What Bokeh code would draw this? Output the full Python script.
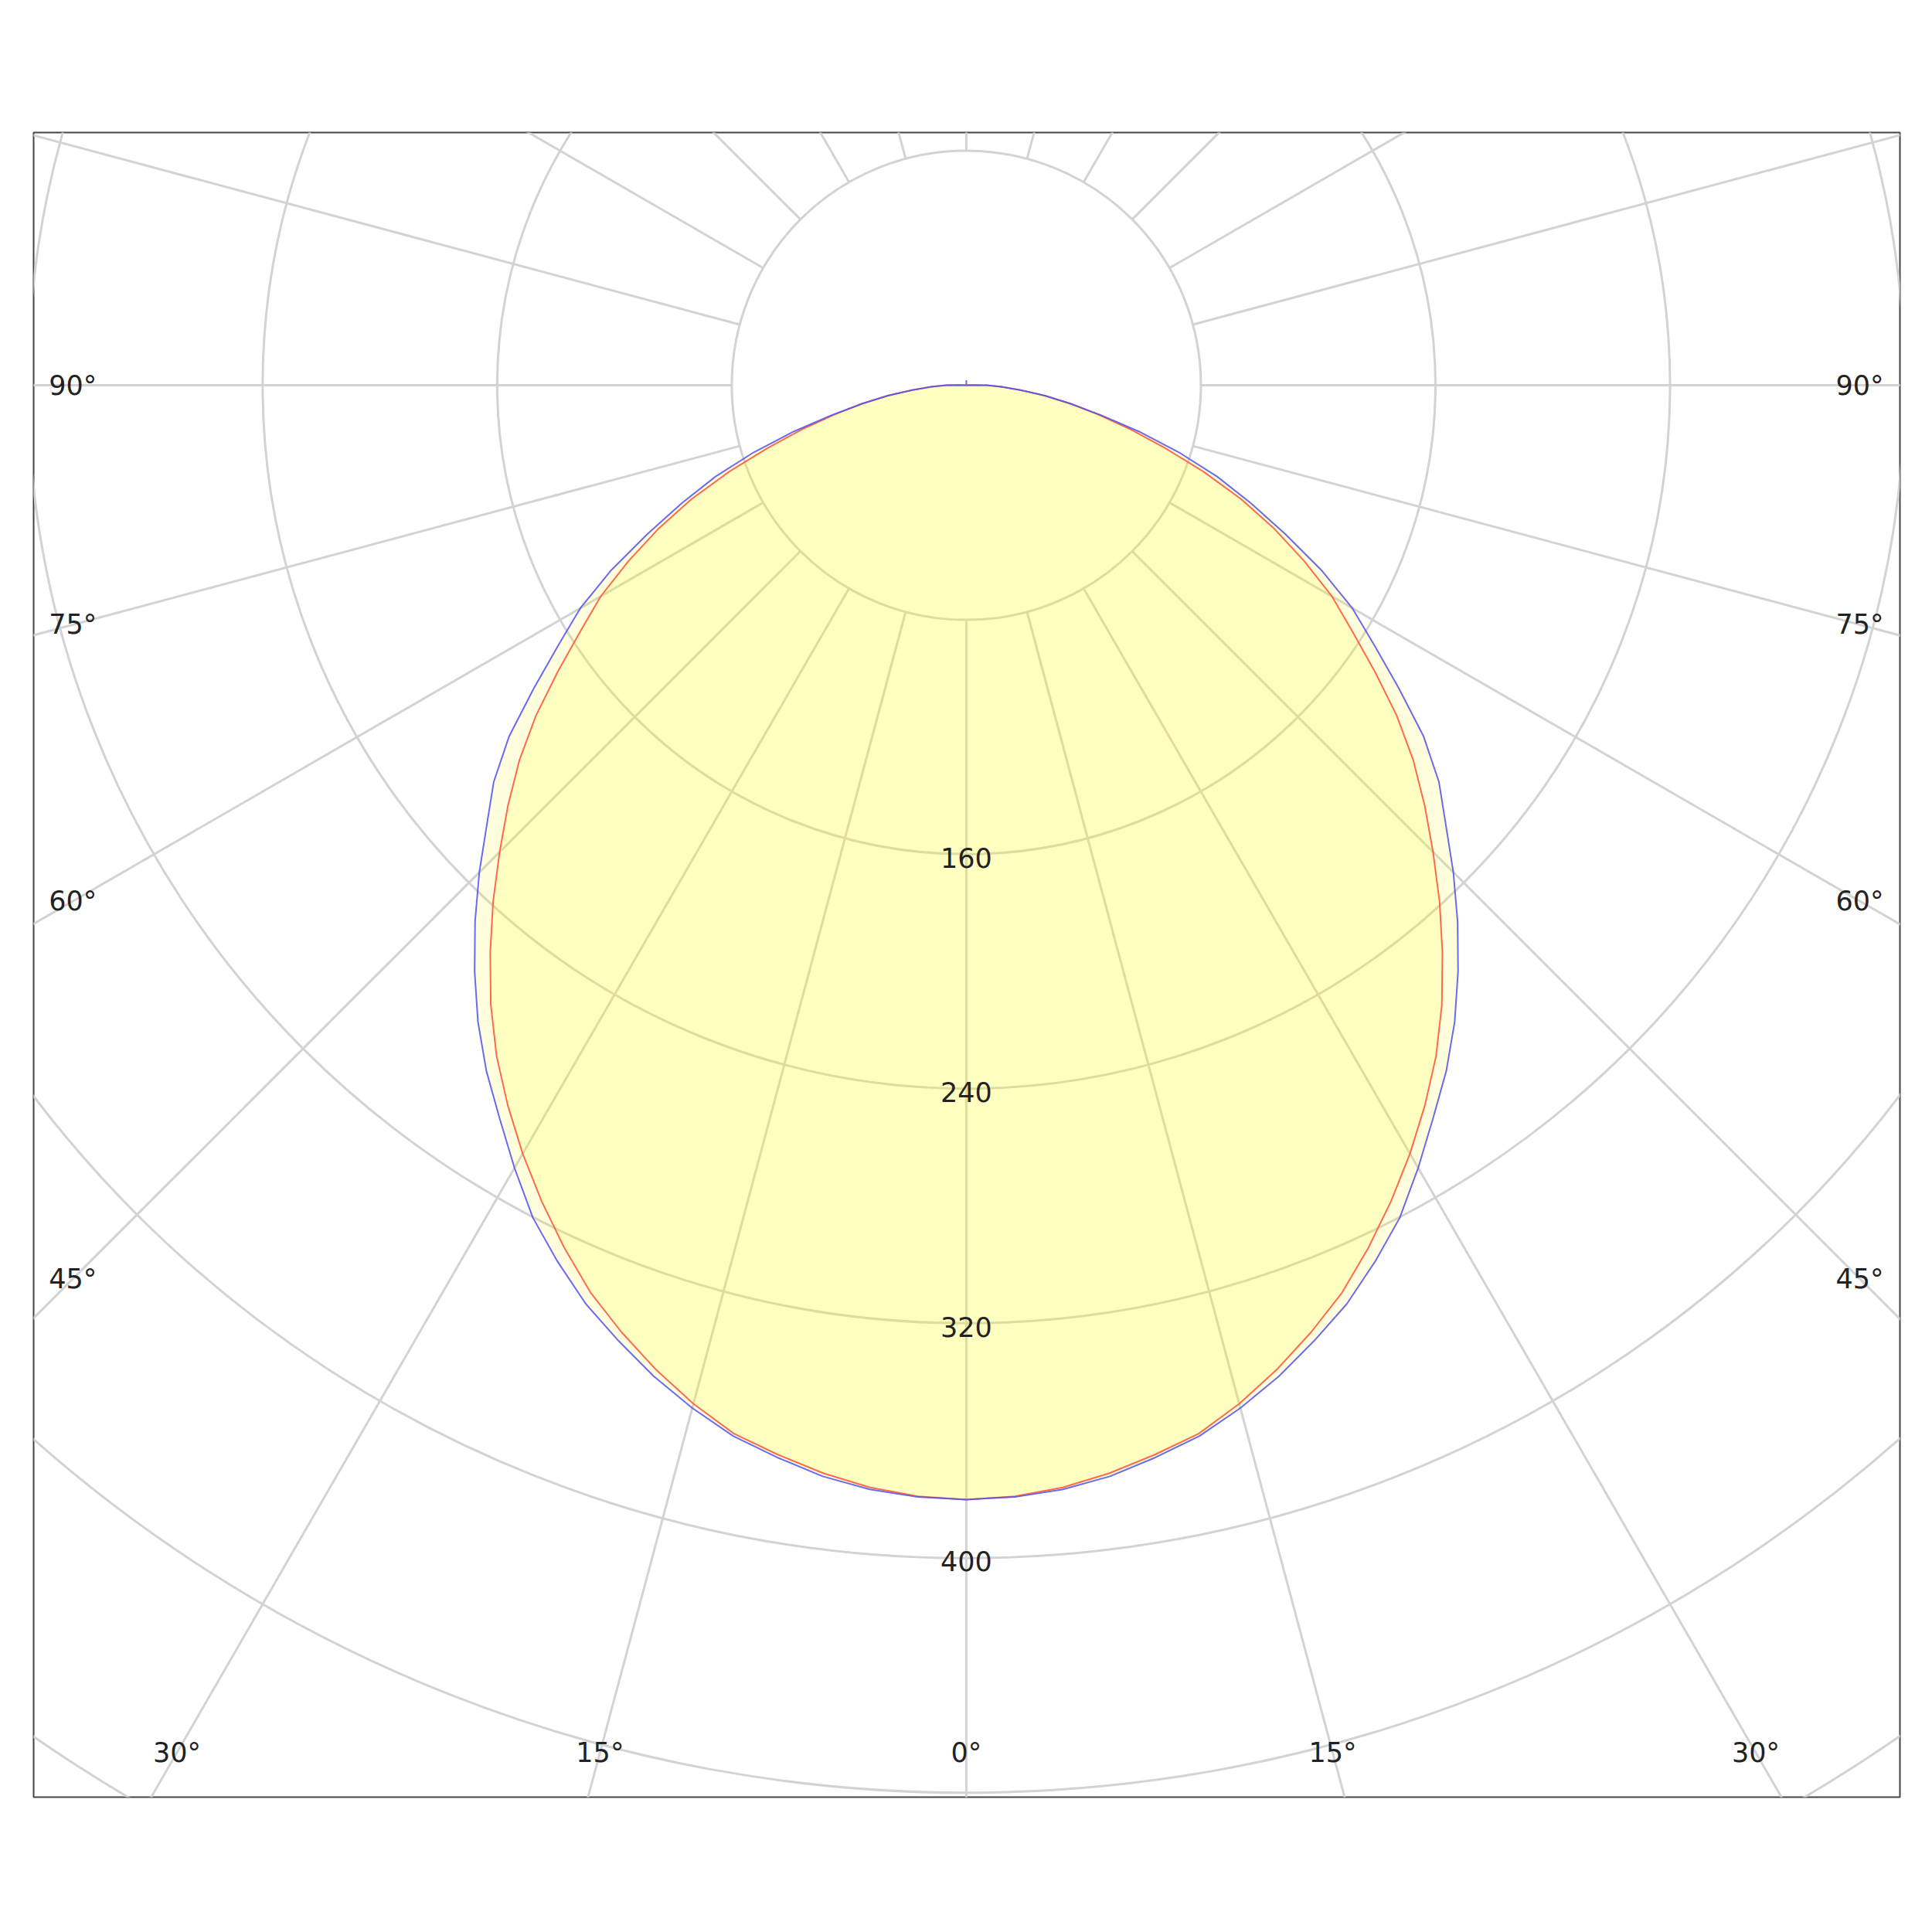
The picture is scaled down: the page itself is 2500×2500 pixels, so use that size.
"""Polar luminous intensity diagram (C0-C180 / C90-C270) in Bokeh."""

import math

from bokeh.core.properties import value
from bokeh.embed import file_html
from bokeh.plotting import figure
from bokeh.resources import INLINE

# Gamma angles (deg from nadir) and intensities (cd).
gamma = [0, 2.5, 5, 7.5, 10, 12.5, 15, 17.5, 20, 22.5, 25, 27.5, 30, 32.5, 35,
         37.5, 40, 42.5, 45, 47.5, 50, 52.5, 55, 57.5, 60, 62.5, 65, 67.5, 70,
         72.5, 75, 77.5, 80, 82.5, 85, 87.5, 90, 92.5, 95]
c0_c180 = [380, 379.3, 377.3, 374.2, 370.3, 366.2, 359.6, 352, 343.7, 334.9,
           324.5, 313.7, 302.6, 291.1, 279.3, 266.4, 252.6, 238.9, 225.1, 212,
           199, 185, 170, 156, 144, 130, 116, 101.5, 86, 71, 58, 46, 36, 27,
           18.5, 12, 7, 2, 0]
c90_c270 = [380, 379.5, 378, 375.3, 371.3, 367.1, 361.1, 354.4, 346.8, 339.1,
            329.8, 320.1, 308.2, 296.3, 285.4, 273.6, 260.9, 248, 234.9, 221.8,
            210.4, 196.5, 180, 165, 152, 136.5, 120, 105, 91, 76, 61, 47, 36,
            27, 18.5, 12, 7, 2, 0]
c90_c270_back = 1.7  # small value at gamma 180 (the spike at the top)

ring_values = [80, 160, 240, 320, 400, 480, 560, 640, 720]
ring_labels = [160, 240, 320, 400]
spoke_angles = list(range(0, 360, 15))
angle_labels = [0, 15, 30, 45, 60, 75, 90]

GRID = "#d3d3d3"
FONT = "DejaVu Sans"


def curve_xy(vals, back=None):
    """Mirror a half curve to a closed polar outline, nadir pointing down."""
    angs = [-g for g in reversed(gamma)] + gamma[1:]
    rs = list(reversed(vals)) + vals[1:]
    xs = [r * math.sin(math.radians(a)) for a, r in zip(angs, rs)]
    ys = [-r * math.cos(math.radians(a)) for a, r in zip(angs, rs)]
    if back is not None:
        xs += [0, 0]
        ys += [back, 0]
    return xs, ys


p = figure(
    width=2492,
    height=2492,
    x_range=(-318.1, 318.4),
    y_range=(-481.5, 86.2),
    x_axis_location=None,
    y_axis_location=None,
    toolbar_location=None,
    output_backend="svg",
    min_border_left=43,
    min_border_right=34,
    min_border_top=171,
    min_border_bottom=167,
    outline_line_color="#444444",
    outline_line_width=2,
    background_fill_color="white",
    border_fill_color="white",
)
p.xgrid.visible = False
p.ygrid.visible = False

# polar grid: rings and spokes (spokes start at the first ring)
p.circle(x=[0] * len(ring_values), y=[0] * len(ring_values), radius=ring_values,
         fill_color=None, line_color=GRID, line_width=3)
r0, r1 = ring_values[0], 900
p.segment(
    x0=[r0 * math.sin(math.radians(a)) for a in spoke_angles],
    y0=[-r0 * math.cos(math.radians(a)) for a in spoke_angles],
    x1=[r1 * math.sin(math.radians(a)) for a in spoke_angles],
    y1=[-r1 * math.cos(math.radians(a)) for a in spoke_angles],
    line_color=GRID, line_width=3,
)

# curves
bx, by = curve_xy(c90_c270, c90_c270_back)
rx, ry = curve_xy(c0_c180)
p.patch(bx, by, fill_color="#ffff00", fill_alpha=0.13, line_color=None)
p.patch(rx, ry, fill_color="#ffff00", fill_alpha=0.13, line_color=None)
p.line(rx, ry, line_color="#ff5a3c", line_width=2, line_alpha=0.9)
p.line(bx, by, line_color="#5050f0", line_width=2, line_alpha=0.85)

# ring labels along the nadir spoke
p.text(x=[0] * len(ring_labels), y=[-v for v in ring_labels],
       text=[str(v) for v in ring_labels], y_offset=4,
       text_align="center", text_baseline="middle",
       text_font=value(FONT), text_font_size="35px", text_color="#222222")

# angle labels on an inset rectangle inside the frame
half_w, bottom = 304.7, 466.3
lx, ly, lt = [], [], []
for a in angle_labels:
    for side in ([1] if a == 0 else [-1, 1]):
        s, c = math.sin(math.radians(a)), math.cos(math.radians(a))
        t = min(half_w / s if s > 1e-9 else 1e9, bottom / c if c > 1e-9 else 1e9)
        lx.append(side * t * s)
        ly.append(-t * c)
        lt.append("%d°" % a)
p.text(x=lx, y=ly, text=lt, text_align="center", text_baseline="middle",
       text_font=value(FONT), text_font_size="35px", text_color="#222222")

open("out.html", "w").write(file_html(p, INLINE))
